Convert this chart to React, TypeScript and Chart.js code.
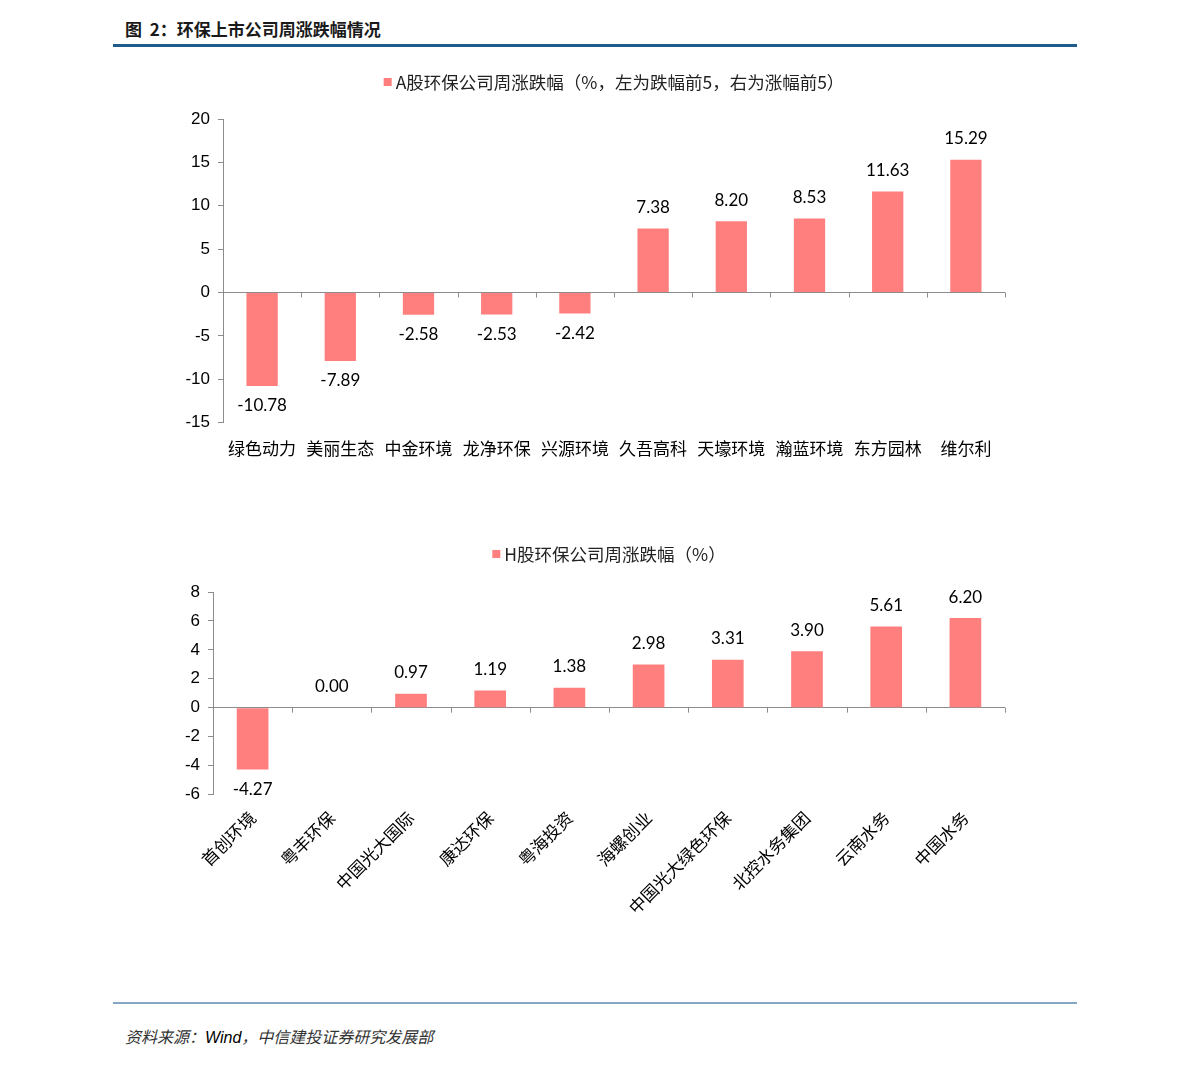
import React, { useEffect, useRef } from "react";
import { Chart, registerables } from "chart.js";

Chart.register(...registerables);

const aCategories = ["绿色动力", "美丽生态", "中金环境", "龙净环保", "兴源环境", "久吾高科", "天壕环境", "瀚蓝环境", "东方园林", "维尔利"];
const aValues = [-10.78, -7.89, -2.58, -2.53, -2.42, 7.38, 8.2, 8.53, 11.63, 15.29];
const aLabel = "A股环保公司周涨跌幅（%，左为跌幅前5，右为涨幅前5）";
const aTicks = { min: -15, max: 20, step: 5 };

const hCategories = ["首创环境", "粤丰环保", "中国光大国际", "康达环保", "粤海投资", "海螺创业", "中国光大绿色环保", "北控水务集团", "云南水务", "中国水务"];
const hValues = [-4.27, 0.0, 0.97, 1.19, 1.38, 2.98, 3.31, 3.9, 5.61, 6.2];
const hLabel = "H股环保公司周涨跌幅（%）";
const hTicks = { min: -6, max: 8, step: 2 };

const BAR = "#FF7F7F";
const AXIS = "#8c8c8c";
const CJK = '"Noto Sans CJK SC", "Noto Sans", sans-serif';

const helperPlugin = {
  id: "helper",
  afterDraw(chart: any) {
    const ctx = chart.ctx;
    const x = chart.scales.x;
    const y = chart.scales.y;
    const area = chart.chartArea;
    const y0 = y.getPixelForValue(0);
    ctx.save();
    ctx.strokeStyle = AXIS;
    ctx.lineWidth = 1;
    const n = chart.data.labels.length;
    const step = x.getPixelForValue(1) - x.getPixelForValue(0);
    for (let i = 0; i <= n; i++) {
      let px = i < n ? x.getPixelForValue(i) - step / 2 : x.getPixelForValue(n - 1) + step / 2;
      px = Math.round(px) + 0.5;
      ctx.beginPath();
      ctx.moveTo(px, y0);
      ctx.lineTo(px, y0 + 5);
      ctx.stroke();
    }
    ctx.fillStyle = "#000";
    ctx.font = '17px Lato, "Open Sans", sans-serif';
    ctx.textAlign = "center";
    ctx.textBaseline = "middle";
    const ds = chart.data.datasets[0];
    const meta = chart.getDatasetMeta(0);
    meta.data.forEach((bar: any, i: number) => {
      const v = ds.data[i];
      const py = v >= 0 ? bar.y - 21 : bar.y + 20;
      ctx.fillText(v.toFixed(2), bar.x, py);
    });
    const label = ds.label;
    ctx.font = '17.5px ' + CJK;
    const w = ctx.measureText(label).width;
    const cx = (area.left + area.right) / 2 + chart.options.legendShift;
    const ly = chart.options.legendY;
    const total = w + 12;
    const sx = cx - total / 2;
    ctx.fillStyle = BAR;
    ctx.fillRect(sx, ly - 4, 8, 8);
    ctx.fillStyle = "#222";
    ctx.textAlign = "left";
    ctx.fillText(label, sx + 12, ly);
    ctx.restore();
  },
};

function makeConfig(labels: string[], values: number[], label: string, t: any, yWidth: number, rotate: boolean, padTop: number, legendY: number, legendShift: number) {
  return {
    type: "bar" as const,
    data: {
      labels,
      datasets: [
        {
          label,
          data: values,
          backgroundColor: BAR,
          barPercentage: 0.4,
          categoryPercentage: 1,
        },
      ],
    },
    options: {
      animation: false,
      responsive: false,
      maintainAspectRatio: false,
      legendY,
      legendShift,
      layout: { padding: { top: padTop, right: 72, left: 0, bottom: 0 } },
      plugins: { legend: { display: false }, tooltip: { enabled: false } },
      scales: {
        x: {
          grid: { display: false },
          border: { display: false },
          ticks: {
            color: "#000",
            font: { size: 17, family: CJK },
            autoSkip: false,
            maxRotation: rotate ? 45 : 0,
            minRotation: rotate ? 45 : 0,
            padding: rotate ? 5 : 8,
          },
        },
        y: {
          min: t.min,
          max: t.max,
          afterFit: (s: any) => {
            s.width = yWidth;
          },
          border: { display: true, color: AXIS },
          grid: {
            drawOnChartArea: true,
            color: (c: any) => (c.tick && c.tick.value === 0 ? AXIS : "rgba(0,0,0,0)"),
            tickColor: AXIS,
            tickLength: 5,
          },
          ticks: {
            stepSize: t.step,
            color: "#000",
            padding: 8,
            font: { size: 17, family: '"Liberation Sans", Arial, sans-serif' },
          },
        },
      },
    },
    plugins: [helperPlugin],
  };
}

function BarChart(props: { config: any; width: number; height: number; left: number; top: number }) {
  const ref = useRef<HTMLCanvasElement>(null);
  useEffect(() => {
    const chart = new Chart(ref.current as HTMLCanvasElement, props.config);
    return () => chart.destroy();
  }, []);
  return (
    <canvas
      ref={ref}
      width={props.width}
      height={props.height}
      style={{ position: "absolute", left: props.left, top: props.top, width: props.width, height: props.height }}
    />
  );
}

export default function App() {
  const topCfg = makeConfig(aCategories, aValues, aLabel, aTicks, 110, false, 59, 22, 0);
  const botCfg = makeConfig(hCategories, hValues, hLabel, hTicks, 100, true, 62, 24, 0);
  return (
    <div style={{ position: "absolute", left: 0, top: 0, width: 1191, height: 1065, background: "#fff", overflow: "hidden" }}>
      <div
        style={{
          position: "absolute",
          left: 125,
          top: 17,
          fontFamily: CJK,
          fontWeight: 700,
          fontSize: 17,
          color: "#1a1a1a",
          lineHeight: "24px",
          whiteSpace: "pre",
        }}
      >
        图  2：环保上市公司周涨跌幅情况
      </div>
      <div style={{ position: "absolute", left: 113, top: 44, width: 964, height: 3, background: "#1F5C8B" }} />
      <BarChart config={topCfg} width={964} height={407} left={113} top={60} />
      <BarChart config={botCfg} width={964} height={393} left={113} top={530} />
      <div style={{ position: "absolute", left: 113, top: 1002, width: 964, height: 2, background: "#86A6C2" }} />
      <div
        style={{
          position: "absolute",
          left: 125,
          top: 1024,
          fontFamily: CJK,
          fontStyle: "italic",
          fontSize: 16,
          color: "#333",
          lineHeight: "24px",
        }}
      >
        资料来源：<span style={{ fontFamily: '"Liberation Sans", Arial, sans-serif', color: "#000" }}>Wind</span>，中信建投证券研究发展部
      </div>
    </div>
  );
}
